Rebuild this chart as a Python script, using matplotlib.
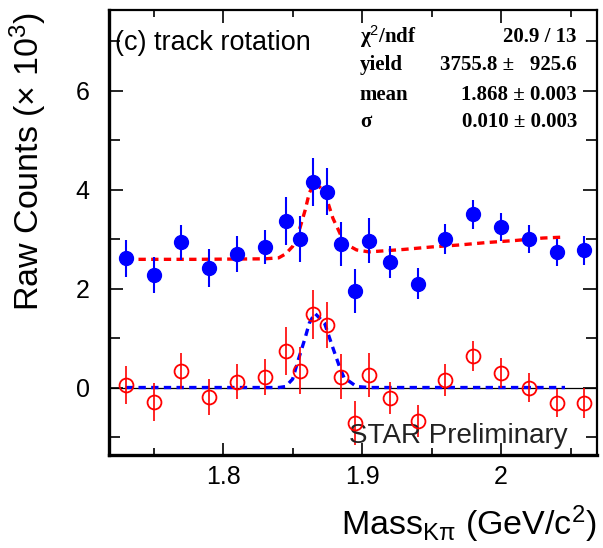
import numpy as np
import matplotlib
matplotlib.use("Agg")
import matplotlib.pyplot as plt
from matplotlib.ticker import FixedLocator

# --- data (Raw Counts x 10^3) ---
mass = [1.73, 1.75, 1.77, 1.79, 1.81, 1.83,
        1.845, 1.855, 1.865, 1.875, 1.885, 1.895, 1.905,
        1.92, 1.94, 1.96, 1.98, 2.00, 2.02, 2.04, 2.06]

# same-sign / total (blue filled)
counts = [2.61, 2.27, 2.93, 2.41, 2.70, 2.84,
          3.36, 3.00, 4.15, 3.96, 2.90, 1.95, 2.97,
          2.54, 2.10, 3.00, 3.50, 3.24, 3.00, 2.73, 2.77]
counts_err = [0.38, 0.37, 0.35, 0.38, 0.36, 0.34,
              0.49, 0.47, 0.49, 0.47, 0.45, 0.45, 0.45,
              0.32, 0.32, 0.31, 0.29, 0.28, 0.29, 0.28, 0.30]

# background subtracted (red open)
signal = [0.05, -0.29, 0.34, -0.19, 0.12, 0.21,
          0.74, 0.34, 1.48, 1.26, 0.22, -0.72, 0.25,
          -0.21, -0.67, 0.15, 0.64, 0.29, 0.00, -0.31, -0.31]
signal_err = [0.39, 0.39, 0.36, 0.37, 0.36, 0.36,
              0.49, 0.47, 0.49, 0.47, 0.45, 0.45, 0.45,
              0.32, 0.32, 0.32, 0.30, 0.30, 0.29, 0.28, 0.30]

# fit curves
fit_x = [1.73, 1.78, 1.83, 1.84, 1.845, 1.85, 1.854, 1.859, 1.862, 1.866,
         1.873, 1.879, 1.884, 1.887, 1.896, 1.905, 1.93, 1.95, 1.97, 1.99,
         2.01, 2.03, 2.046]
fit_total = [2.59, 2.59, 2.60, 2.62, 2.70, 2.85, 3.10, 3.58, 3.93, 4.15,
             3.95, 3.42, 3.12, 2.92, 2.78, 2.74, 2.79, 2.84, 2.88, 2.93,
             2.97, 3.02, 3.04]
fit_signal = [0.0, 0.0, 0.0, 0.0, 0.02, 0.17, 0.55, 1.0, 1.3, 1.5,
              1.3, 0.8, 0.4, 0.2, 0.02, 0.0, 0.0, 0.0, 0.0, 0.0,
              0.0, 0.0, 0.0]

stat_names = ["χ$^2$/ndf", "yield", "mean", "σ"]
stat_values = ["20.9 / 13", "3755.8 ±   925.6", "1.868 ± 0.003", "0.010 ± 0.003"]

plt.rcParams["font.family"] = ["Liberation Sans", "DejaVu Sans"]
plt.rcParams["mathtext.fontset"] = "custom"
plt.rcParams["mathtext.rm"] = "Liberation Sans"
plt.rcParams["mathtext.it"] = "Liberation Sans:italic"

fig = plt.figure(figsize=(6.03, 5.48), dpi=100)
ax = fig.add_axes([0.181, 0.170, 0.809, 0.812])

ax.axhline(0, color="black", lw=0.9, zorder=1)

ax.plot(fit_x, fit_total, color="red", lw=2.4, dashes=(2.2, 1.6), zorder=2)
ax.plot(fit_x, fit_signal, color="blue", lw=2.4, dashes=(2.2, 1.6), zorder=2)

ax.errorbar(mass, counts, yerr=counts_err, fmt="o", color="blue",
            ms=10, elinewidth=1.5, capsize=0, zorder=3)
ax.errorbar(mass, signal, yerr=signal_err, fmt="o", color="red",
            mfc="none", mec="red", ms=10, mew=1.3, elinewidth=1.2,
            capsize=0, zorder=3)

ax.set_xlim(1.718, 2.069)
ax.set_ylim(-1.36, 7.63)

ax.xaxis.set_major_locator(FixedLocator([1.8, 1.9, 2.0]))
ax.xaxis.set_minor_locator(FixedLocator([1.75, 1.85, 1.95, 2.05]))
ax.set_xticklabels(["1.8", "1.9", "2"])
ax.yaxis.set_major_locator(FixedLocator([0, 2, 4, 6]))
ax.yaxis.set_minor_locator(FixedLocator([-1, 1, 3, 5, 7]))
ax.tick_params(which="both", direction="in", top=True, right=True,
               labelsize=18, width=1.2, color="black")
ax.tick_params(axis="x", which="major", length=9, pad=7)
ax.tick_params(axis="x", which="minor", length=5)
ax.tick_params(axis="y", which="major", length=10, pad=14)
ax.tick_params(axis="y", which="minor", length=8)

for s in ["left", "bottom"]:
    ax.spines[s].set_linewidth(2.4)
for s in ["top", "right"]:
    ax.spines[s].set_linewidth(1.6)

# axis titles placed in figure pixels
fig.text(28 / 603, 1 - 162 / 548, "Raw Counts ($\\times$ 10$^3$)", fontsize=24.5,
         rotation=90, ha="center", va="center")
fig.text(597 / 603, 1 - 535 / 548, "Mass$_{\\mathrm{Kπ}}$ (GeV/c$^2$)",
         fontsize=24.5, ha="right", va="baseline")

ax.text(0.012, 0.910, "(c) track rotation", transform=ax.transAxes,
        fontsize=19.5, va="baseline", ha="left")
ax.text(0.939, 0.027, "STAR Preliminary", transform=ax.transAxes,
        fontsize=20, va="baseline", ha="right", color="#222222")

rows_y = [0.939, 0.876, 0.809, 0.748]
for name, val, yy in zip(stat_names, stat_values, rows_y):
    ax.text(0.514, yy, name, transform=ax.transAxes, fontsize=15,
            family="Liberation Serif", weight="bold", va="center", ha="left")
    ax.text(0.959, yy, val, transform=ax.transAxes, fontsize=15,
            family="Liberation Serif", weight="bold", va="center", ha="right")

fig.savefig("out.png", dpi=100, facecolor="white")
